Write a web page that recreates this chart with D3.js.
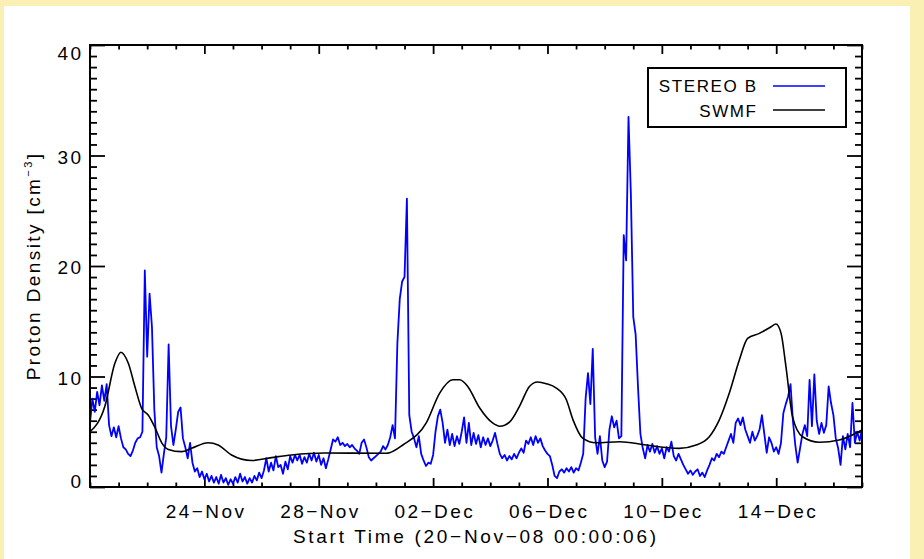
<!DOCTYPE html>
<html>
<head>
<meta charset="utf-8">
<script src="https://cdn.jsdelivr.net/npm/d3@7"></script>
<style>
  html, body { margin: 0; padding: 0; background: #faf0b4; }
  svg { display: block; font-family: "Liberation Sans", Arial, Helvetica, sans-serif; }
  text { fill: #000; }
</style>
</head>
<body>
<svg id="chart" width="924" height="559"></svg>
<script>
// ---- data -------------------------------------------------------------
// Observation start: 20-Nov-2008 00:00:06 UT
const startTime = Date.UTC(2008, 10, 20, 0, 0, 6);
const axisStart = Date.UTC(2008, 10, 20);
const axisEnd = Date.UTC(2008, 11, 17);

// STEREO B proton density [cm^-3], one sample every 2 hours
const stereoStepHours = 2;
const stereoDensity = [
  5.8, 8.0, 6.8, 8.6, 7.4, 9.2, 7.8, 9.3, 5.6, 4.6,
  5.4, 4.5, 5.5, 4.4, 3.6, 3.4, 3.0, 2.8, 3.3, 4.0,
  4.4, 4.5, 5.0, 19.6, 11.8, 17.5, 14.5, 7.0, 3.6, 2.8,
  1.3, 3.0, 4.5, 12.9, 5.5, 3.8, 5.2, 6.8, 7.2, 4.4,
  3.6, 2.6, 4.0, 2.2, 1.4, 1.7, 0.9, 1.4, 0.7, 1.2,
  0.5, 1.0, 0.4, 0.9, 0.3, 1.1, 0.4, 0.8, 0.2, 0.7,
  0.3, 0.9, 0.4, 1.2, 0.5, 0.9, 0.3, 0.8, 0.4, 1.0,
  0.6, 1.3, 0.8, 1.5, 2.6, 1.4, 2.2, 1.5, 2.8, 1.8,
  2.0, 1.2, 2.3, 1.6, 2.8, 2.2, 2.9, 2.4, 2.9, 2.1,
  2.7, 2.2, 3.0, 2.4, 3.1, 2.3, 2.9, 2.0, 2.6, 1.7,
  2.5, 3.4, 4.3, 4.1, 4.5, 3.8, 4.0, 3.7, 3.9, 3.6,
  3.8, 3.5, 3.3, 3.0, 4.0, 4.3, 3.6, 2.7, 2.4, 2.6,
  2.8, 3.0, 3.2, 3.7, 3.4, 3.8, 4.5, 5.6, 4.4, 13.0,
  17.0, 18.6, 19.0, 26.1, 6.5, 5.0, 4.4, 3.6, 4.6, 3.0,
  2.4, 1.9, 2.2, 2.1, 2.9, 5.0, 6.4, 7.0, 5.8, 4.0,
  5.2, 3.8, 4.8, 3.7, 4.6, 3.9, 5.0, 6.3, 4.0, 5.8,
  3.8, 4.9, 3.9, 4.7, 3.6, 4.5, 3.8, 4.4, 3.7, 4.2,
  4.9, 3.9, 3.0, 2.6, 2.9, 2.4, 2.8, 2.5, 3.0, 2.6,
  3.1, 3.5, 3.1, 4.2, 3.9, 4.5, 3.8, 4.6, 4.0, 4.4,
  3.7, 3.3, 3.0, 2.8, 2.0, 1.0, 0.8, 1.4, 1.6, 1.3,
  1.7, 1.4, 1.8, 1.3, 1.7, 1.5, 2.2, 3.0, 8.0, 10.3,
  7.5, 12.5, 4.5, 3.0, 4.6, 2.4, 1.8, 2.3, 5.2, 6.4,
  5.4, 6.0, 4.4, 4.6, 22.8, 20.5, 33.5, 26.5, 15.4, 13.8,
  9.0, 4.8, 3.5, 2.6, 3.8, 3.2, 3.9, 3.1, 3.7, 3.0,
  3.5, 2.6, 3.6, 3.2, 4.1, 2.8, 2.4, 3.0, 2.5, 2.0,
  1.6, 1.2, 1.5, 1.1, 1.4, 1.6, 1.0, 1.3, 0.9, 1.5,
  2.0, 2.6, 2.4, 3.0, 2.7, 3.2, 3.0, 3.6, 4.2, 4.8,
  4.0, 5.8, 6.2, 5.6, 6.3, 5.2, 4.6, 4.0, 5.0, 4.2,
  4.6, 5.2, 6.5, 4.8, 3.1, 4.5, 4.0, 3.2, 3.6, 3.0,
  4.0, 6.7, 7.5, 8.2, 9.3, 6.0, 3.8, 2.2, 3.5, 4.8,
  5.6, 4.6, 9.7, 5.5, 10.2, 6.0, 4.8, 5.8, 4.9, 5.6,
  9.1, 7.6, 6.5, 4.4, 3.5, 2.0, 4.6, 3.4, 4.8, 3.6,
  7.6, 4.0, 5.0, 4.2, 5.2
];

// SWMF model density, days since start
const swmfDay = [
  0.00, 0.52, 0.87, 1.08, 1.34, 1.57, 1.81, 2.04, 2.27, 2.51,
  2.74, 3.20, 3.55, 4.13, 4.48, 4.95, 5.65, 6.35, 7.05, 8.21,
  10.37, 10.48, 10.94, 11.76, 12.23, 12.69, 12.93, 13.21, 13.63, 14.08,
  14.33, 14.68, 15.02, 15.37, 15.65, 15.96, 16.31, 16.66, 16.89, 17.24,
  17.70, 18.52, 19.45, 20.61, 21.20, 21.66, 22.01, 22.36, 22.71, 23.00,
  23.41, 23.82, 23.99, 24.17, 24.34, 24.57, 24.92, 25.51, 26.20, 27.00
];
const swmfDensity = [
  5.0, 7.3, 11.2, 12.2, 11.2, 9.1, 7.1, 6.5, 5.4, 4.0,
  3.4, 3.2, 3.5, 4.0, 3.8, 2.9, 2.4, 2.66, 2.9, 3.08,
  3.05, 3.1, 3.8, 5.8, 8.5, 9.7, 9.7, 9.1, 7.15, 5.8,
  5.5, 5.9, 7.3, 9.1, 9.5, 9.35, 8.95, 7.9, 6.1, 4.4,
  4.0, 4.1, 3.8, 3.5, 3.8, 4.55, 6.07, 8.5, 11.5, 13.45,
  13.9, 14.5, 14.75, 13.9, 10.9, 6.37, 4.55, 4.05, 4.25, 5.16
];

const xTickDates = ["2008-11-24", "2008-11-28", "2008-12-02", "2008-12-06", "2008-12-10", "2008-12-14"];
const yTicks = [0, 10, 20, 30, 40];
const seriesNames = ["STEREO B", "SWMF"];
const seriesColors = ["#0000ff", "#000000"];

// ---- layout -----------------------------------------------------------
const W = 924, H = 559;
const box = { left: 90, right: 862, top: 45, bottom: 487 };
const fontSize = 19;
const spacing = 2.4;
const titleSpacing = 2.7;

const svg = d3.select("#chart");

svg.append("rect").attr("width", W).attr("height", H).attr("fill", "#faf0b4");
svg.append("rect").attr("x", 4).attr("y", 6).attr("width", 906).attr("height", H - 6).attr("fill", "#ffffff");

const x = d3.scaleUtc().domain([new Date(axisStart), new Date(axisEnd)]).range([box.left, box.right]);
const y = d3.scaleLinear().domain([0, 40]).range([box.bottom, box.top]);

const stereo = stereoDensity.map((v, i) => ({ t: new Date(startTime + i * stereoStepHours * 3600e3), v }));
const swmf = swmfDay.map((d, i) => ({ t: new Date(axisStart + d * 86400e3), v: swmfDensity[i] }));

// ---- axes -------------------------------------------------------------
const majorDates = xTickDates.map(s => new Date(s + "T00:00:00Z"));
const majorSet = new Set(majorDates.map(d => +d));
const minorDates = d3.utcDay.range(new Date(axisStart), new Date(axisEnd + 1)).filter(d => !majorSet.has(+d));
const minorY = d3.range(0, 41).filter(v => v % 10 !== 0);
const fmt = d => d3.utcFormat("%d-%b")(d).replace("-", "\u2212");

function styleTicks(g) {
  g.select(".domain").remove();
  g.selectAll(".tick line").attr("stroke", "#000").attr("stroke-width", 1.8);
}

// bottom
svg.append("g").attr("transform", `translate(0,${box.bottom})`)
  .call(d3.axisBottom(x).tickValues(minorDates).tickSizeInner(-4.5).tickSizeOuter(0).tickFormat(""))
  .call(styleTicks);
const bottomMajor = svg.append("g").attr("transform", `translate(0,${box.bottom})`)
  .call(d3.axisBottom(x).tickValues(majorDates).tickSizeInner(-9).tickSizeOuter(0).tickFormat(fmt))
  .call(styleTicks);
bottomMajor.selectAll(".tick text")
  .attr("y", 31).attr("dy", 0).attr("dx", spacing / 2)
  .attr("font-size", fontSize).attr("font-family", null)
  .style("letter-spacing", spacing + "px").attr("fill", "#000");

// top
svg.append("g").attr("transform", `translate(0,${box.top})`)
  .call(d3.axisTop(x).tickValues(minorDates).tickSizeInner(-4.5).tickSizeOuter(0).tickFormat(""))
  .call(styleTicks);
svg.append("g").attr("transform", `translate(0,${box.top})`)
  .call(d3.axisTop(x).tickValues(majorDates).tickSizeInner(-9).tickSizeOuter(0).tickFormat(""))
  .call(styleTicks);

// left
svg.append("g").attr("transform", `translate(${box.left},0)`)
  .call(d3.axisLeft(y).tickValues(minorY).tickSizeInner(-7).tickSizeOuter(0).tickFormat(""))
  .call(styleTicks);
const leftMajor = svg.append("g").attr("transform", `translate(${box.left},0)`)
  .call(d3.axisLeft(y).tickValues(yTicks).tickSizeInner(-15).tickSizeOuter(0).tickFormat(d3.format("d")))
  .call(styleTicks);
leftMajor.selectAll(".tick text")
  .attr("x", -9 + spacing)
  .attr("dy", d => d === 40 ? 14 : d === 0 ? 0 : 7.5)
  .attr("font-size", fontSize).attr("font-family", null)
  .style("letter-spacing", spacing + "px").attr("fill", "#000");

// right
svg.append("g").attr("transform", `translate(${box.right},0)`)
  .call(d3.axisRight(y).tickValues(minorY).tickSizeInner(-7).tickSizeOuter(0).tickFormat(""))
  .call(styleTicks);
svg.append("g").attr("transform", `translate(${box.right},0)`)
  .call(d3.axisRight(y).tickValues(yTicks).tickSizeInner(-15).tickSizeOuter(0).tickFormat(""))
  .call(styleTicks);

// ---- series -----------------------------------------------------------
svg.append("clipPath").attr("id", "plotClip")
  .append("rect").attr("x", box.left).attr("y", box.top)
  .attr("width", box.right - box.left).attr("height", box.bottom - box.top);

const plotArea = svg.append("g").attr("clip-path", "url(#plotClip)");

plotArea.append("path").datum(stereo)
  .attr("fill", "none").attr("stroke", seriesColors[0]).attr("stroke-width", 1.8)
  .attr("stroke-linejoin", "round")
  .attr("d", d3.line().x(d => x(d.t)).y(d => y(d.v)));

plotArea.append("path").datum(swmf)
  .attr("fill", "none").attr("stroke", seriesColors[1]).attr("stroke-width", 1.6)
  .attr("d", d3.line().curve(d3.curveMonotoneX).x(d => x(d.t)).y(d => y(d.v)));

// frame
svg.append("rect").attr("x", box.left).attr("y", box.top)
  .attr("width", box.right - box.left).attr("height", box.bottom - box.top)
  .attr("fill", "none").attr("stroke", "#000").attr("stroke-width", 2);

// ---- titles -----------------------------------------------------------
svg.append("text")
  .attr("x", 474.5 + titleSpacing / 2).attr("y", 543)
  .attr("text-anchor", "middle").attr("font-size", fontSize)
  .style("letter-spacing", titleSpacing + "px")
  .text("Start Time (20\u2212Nov\u221208 00:00:06)");

const yTitle = svg.append("text")
  .attr("transform", "translate(40,266) rotate(-90)")
  .attr("text-anchor", "middle").attr("font-size", fontSize)
  .style("letter-spacing", spacing + "px");
yTitle.append("tspan").text("Proton Density [cm");
yTitle.append("tspan").attr("font-size", 11).attr("dy", -8).text("\u22123");
yTitle.append("tspan").attr("dy", 8).text("]");

// ---- legend -----------------------------------------------------------
const legend = svg.append("g");
legend.append("rect").attr("x", 648).attr("y", 68).attr("width", 198).attr("height", 59)
  .attr("fill", "#fff").attr("stroke", "#000").attr("stroke-width", 2);
const legendRows = [
  { name: seriesNames[0], color: seriesColors[0], textY: 92, lineY: 86 },
  { name: seriesNames[1], color: seriesColors[1], textY: 117, lineY: 110 }
];
legendRows.forEach(r => {
  legend.append("text").attr("x", 756 + 1.6).attr("y", r.textY)
    .attr("text-anchor", "end").attr("font-size", 17)
    .style("letter-spacing", "1.6px").text(r.name);
  legend.append("line").attr("x1", 773).attr("x2", 825).attr("y1", r.lineY).attr("y2", r.lineY)
    .attr("stroke", r.color).attr("stroke-width", 1.5);
});
</script>
</body>
</html>
